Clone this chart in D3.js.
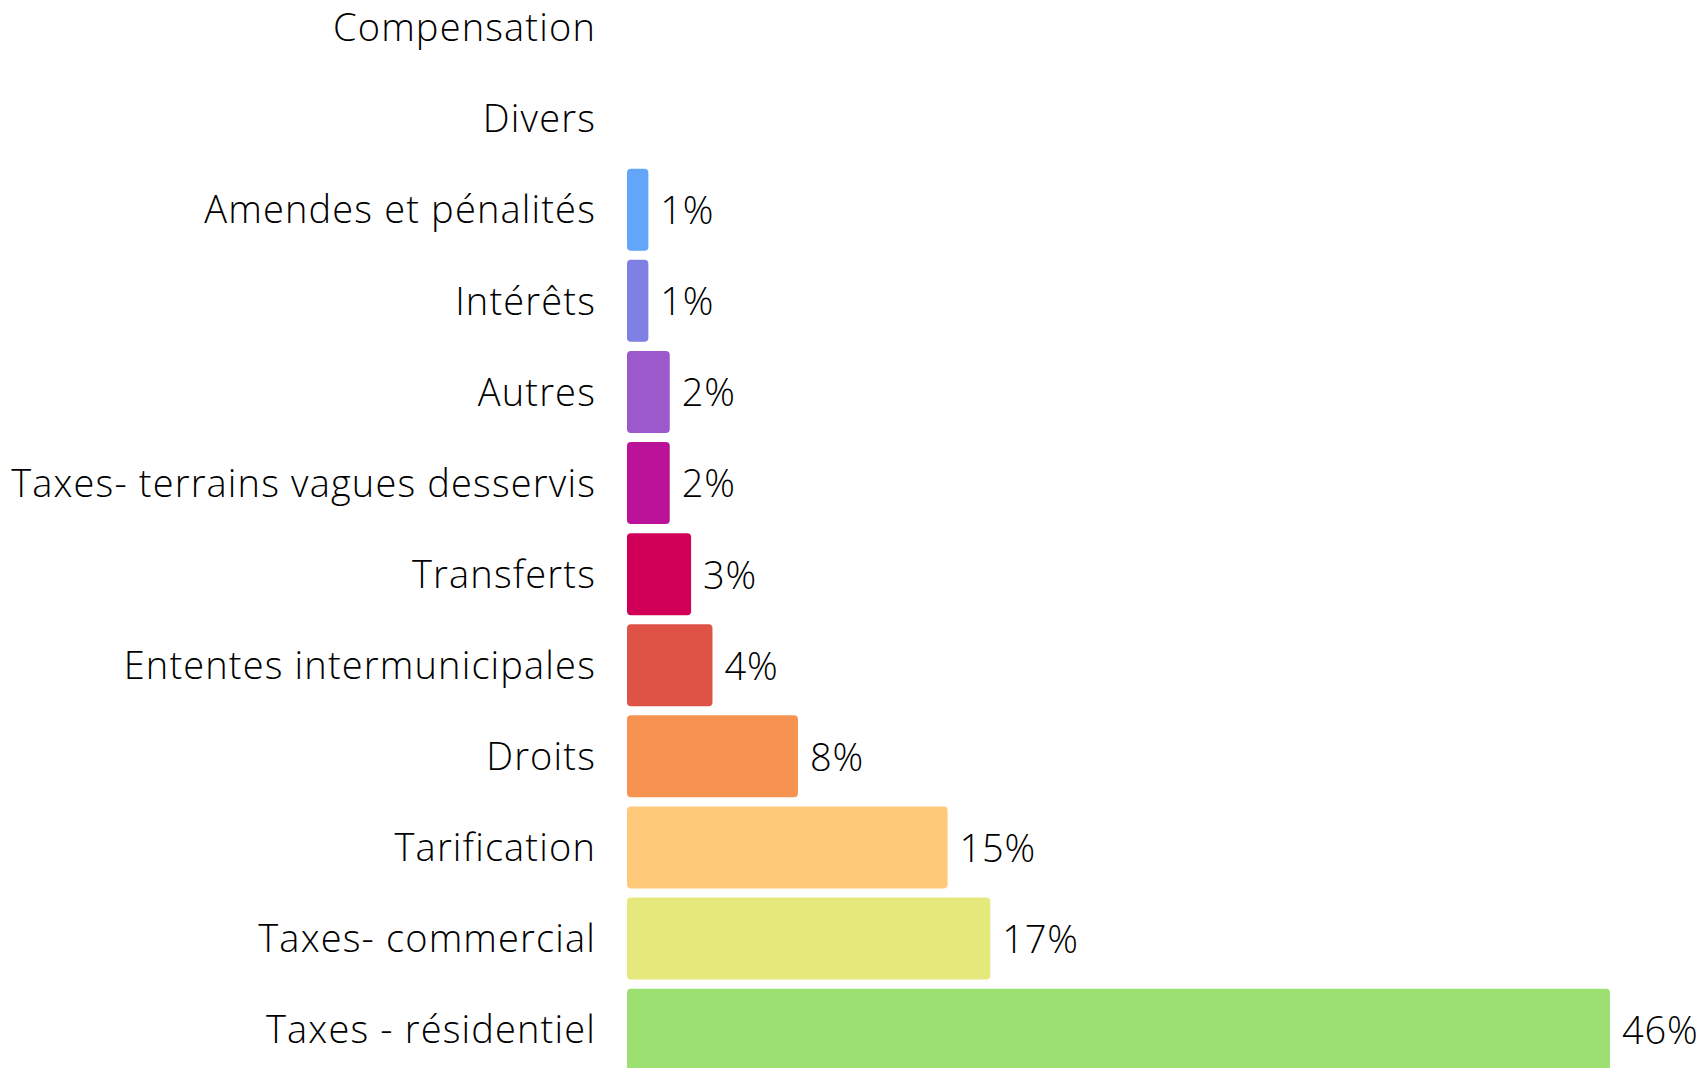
<!DOCTYPE html>
<html>
<head>
<meta charset="utf-8">
<script src="https://cdn.jsdelivr.net/npm/d3@7"></script>
<style>
  html, body { margin: 0; padding: 0; background: #fff; overflow: hidden; }
  svg { display: block; }
</style>
</head>
<body>
<svg id="chart" width="1707" height="1068"></svg>
<script>
const categories = [
  "Compensation",
  "Divers",
  "Amendes et pénalités",
  "Intérêts",
  "Autres",
  "Taxes- terrains vagues desservis",
  "Transferts",
  "Ententes intermunicipales",
  "Droits",
  "Tarification",
  "Taxes- commercial",
  "Taxes - résidentiel"
];
const values = [0, 0, 1, 1, 2, 2, 3, 4, 8, 15, 17, 46];
const valueLabels = ["", "", "1%", "1%", "2%", "2%", "3%", "4%", "8%", "15%", "17%", "46%"];
const colors = ["#63A5F8", "#63A5F8", "#63A5F8", "#7F80E3", "#9B59CB", "#BA1399", "#D00058", "#DF5347", "#F69351", "#FEC978", "#E5E87A", "#9BE071"];

const data = categories.map((c, i) => ({ cat: c, v: values[i], label: valueLabels[i], color: colors[i] }));

const svg = d3.select("#chart");
const x0 = 627;
const x = d3.scaleLinear().domain([0, 46]).range([x0, 1610]);
const y = d3.scaleBand().domain(categories).range([-18, 1075.2]).paddingInner(0.1).paddingOuter(0.05);

const font = "'Open Sans', 'Noto Sans', sans-serif";

svg.append("g").selectAll("rect")
  .data(data.filter(d => d.v > 0))
  .join("rect")
  .attr("x", x(0))
  .attr("y", d => y(d.cat))
  .attr("width", d => x(d.v) - x(0))
  .attr("height", y.bandwidth())
  .attr("rx", 4).attr("ry", 4)
  .attr("fill", d => d.color);

svg.append("g").selectAll("text")
  .data(data)
  .join("text")
  .attr("x", x0 - 31)
  .attr("y", d => y(d.cat) + y.bandwidth() / 2)
  .attr("dy", "0.36em")
  .attr("text-anchor", "end")
  .attr("font-family", font)
  .attr("font-weight", 300)
  .attr("font-size", 38)
  .attr("letter-spacing", 1.15)
  .attr("fill", "#000")
  .text(d => d.cat);

svg.append("g").selectAll("text")
  .data(data.filter(d => d.v > 0))
  .join("text")
  .attr("x", d => x(d.v) + 12)
  .attr("y", d => y(d.cat) + y.bandwidth() / 2)
  .attr("dy", "0.38em")
  .attr("font-family", font)
  .attr("font-weight", 300)
  .attr("font-size", 38)
  .attr("letter-spacing", 0.8)
  .attr("fill", "#000")
  .text(d => d.label);
</script>
</body>
</html>
